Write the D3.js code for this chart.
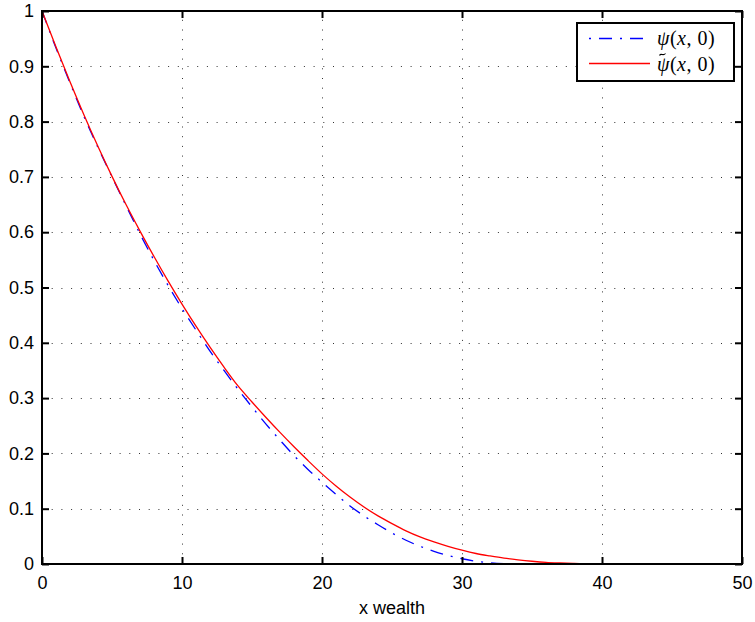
<!DOCTYPE html>
<html>
<head>
<meta charset="utf-8">
<script src="https://cdn.jsdelivr.net/npm/d3@7"></script>
<style>
  html, body { margin: 0; padding: 0; background: #fff; }
  svg { display: block; }
</style>
</head>
<body>
<svg id="chart" width="755" height="622"></svg>
<script>
// wealth grid
const wealth = [0,1,2,3,4,5,6,7,8,9,10,11,12,13,14,15,16,17,18,19,20,
  21,22,23,24,25,26,27,28,29,30,31,32,33,34,35,36,37,38,39,40,
  41,42,43,44,45,46,47,48,49,50];

// psi(x,0)
const psi = [1.000,0.933,0.870,0.809,0.753,0.700,0.648,0.597,0.549,0.504,0.462,
  0.423,0.385,0.350,0.316,0.284,0.253,0.224,0.196,0.171,0.148,
  0.126,0.105,0.087,0.071,0.056,0.043,0.032,0.023,0.0155,0.0095,
  0.005,0.002,0.0005,0,0,0,0,0,0,0,
  0,0,0,0,0,0,0,0,0,0];

// psi-tilde(x,0)
const psiTilde = [1.000,0.935,0.872,0.812,0.755,0.701,0.650,0.602,0.556,0.512,0.470,
  0.430,0.392,0.356,0.322,0.293,0.265,0.238,0.212,0.187,0.163,
  0.141,0.121,0.103,0.087,0.073,0.060,0.049,0.040,0.032,0.025,
  0.019,0.0145,0.0105,0.0075,0.005,0.003,0.0018,0.0009,0.0003,0,
  0,0,0,0,0,0,0,0,0,0];

const xTicks = [0,10,20,30,40,50];
const yTicks = [0,0.1,0.2,0.3,0.4,0.5,0.6,0.7,0.8,0.9,1];
const yTickLabels = ["0","0.1","0.2","0.3","0.4","0.5","0.6","0.7","0.8","0.9","1"];

(function draw() {
  const pLeft = 42, pRight = 742, pTop = 11, pBottom = 564;
  const svg = d3.select("#chart");
  const x = d3.scaleLinear().domain([0, 50]).range([pLeft, pRight]);
  const y = d3.scaleLinear().domain([0, 1]).range([pBottom, pTop]);

  const tickFont = "'Liberation Sans', Arial, sans-serif";

  // dotted grid
  const grid = svg.append("g").attr("stroke", "#333").attr("stroke-width", 1)
    .attr("stroke-dasharray", "1,8.7");
  grid.selectAll("line.gx").data(xTicks.slice(1, -1)).join("line")
    .attr("x1", d => Math.round(x(d)) + 0.5).attr("x2", d => Math.round(x(d)) + 0.5)
    .attr("y1", pBottom).attr("y2", pTop);
  grid.selectAll("line.gy").data(yTicks.slice(1, -1)).join("line")
    .attr("y1", d => Math.round(y(d)) + 0.5).attr("y2", d => Math.round(y(d)) + 0.5)
    .attr("x1", pLeft).attr("x2", pRight);

  // curves
  const line = (vals) => d3.line()
    .x((d, i) => x(wealth[i]))
    .y(d => y(d))
    .curve(d3.curveMonotoneX)(vals);

  svg.append("path").attr("d", line(psi))
    .attr("fill", "none").attr("stroke", "#0000ff").attr("stroke-width", 1.3)
    .attr("stroke-dasharray", "13,8,2,8");
  svg.append("path").attr("d", line(psiTilde))
    .attr("fill", "none").attr("stroke", "#ff0000").attr("stroke-width", 1.3);

  // axes box with inward ticks on all four sides
  svg.append("rect").attr("x", pLeft).attr("y", pTop)
    .attr("width", pRight - pLeft).attr("height", pBottom - pTop)
    .attr("fill", "none").attr("stroke", "#000").attr("stroke-width", 2);

  const tickLen = 7;
  const axB = d3.axisBottom(x).tickValues(xTicks).tickSizeInner(-tickLen).tickSizeOuter(0).tickPadding(12);
  const axT = d3.axisTop(x).tickValues(xTicks).tickSizeInner(-tickLen).tickSizeOuter(0).tickFormat("");
  const axL = d3.axisLeft(y).tickValues(yTicks).tickSizeInner(-tickLen).tickSizeOuter(0).tickPadding(8)
    .tickFormat((d, i) => yTickLabels[i]);
  const axR = d3.axisRight(y).tickValues(yTicks).tickSizeInner(-tickLen).tickSizeOuter(0).tickFormat("");

  function styleAxis(g) {
    g.select(".domain").remove();
    g.selectAll(".tick line").attr("stroke", "#000").attr("stroke-width", 2);
    g.selectAll(".tick text").attr("fill", "#000")
      .style("font-family", tickFont).style("font-size", "18px");
  }
  svg.append("g").attr("transform", `translate(0,${pBottom})`).call(axB).call(styleAxis);
  svg.append("g").attr("transform", `translate(0,${pTop})`).call(axT).call(styleAxis);
  svg.append("g").attr("transform", `translate(${pLeft},0)`).call(axL).call(styleAxis);
  svg.append("g").attr("transform", `translate(${pRight},0)`).call(axR).call(styleAxis);

  // x-axis title
  svg.append("text").attr("x", (pLeft + pRight) / 2).attr("y", 614)
    .attr("text-anchor", "middle")
    .style("font-family", tickFont).style("font-size", "18px")
    .text("x wealth");

  // legend
  const lg = svg.append("g");
  lg.append("rect").attr("x", 577).attr("y", 23).attr("width", 157).attr("height", 58)
    .attr("fill", "#fff").attr("stroke", "#000").attr("stroke-width", 2);
  lg.append("line").attr("x1", 589).attr("x2", 650).attr("y1", 38.5).attr("y2", 38.5)
    .attr("stroke", "#0000ff").attr("stroke-width", 1.3)
    .attr("stroke-dasharray", "13,8,2,8").attr("stroke-dashoffset", 21);
  lg.append("line").attr("x1", 589).attr("x2", 650).attr("y1", 63.5).attr("y2", 63.5)
    .attr("stroke", "#ff0000").attr("stroke-width", 1.3);

  const serif = "'Liberation Serif', 'DejaVu Serif', serif";
  function legendLabel(yPos, sym) {
    const t = lg.append("text").attr("x", 657).attr("y", yPos)
      .style("font-family", serif).style("font-size", "20px")
      .style("letter-spacing", "0.5px");
    t.append("tspan").style("font-style", "italic").text(sym);
    t.append("tspan").text("(");
    t.append("tspan").style("font-style", "italic").text("x");
    t.append("tspan").text(", 0)");
    return t;
  }
  legendLabel(45, "\u03C8");
  legendLabel(71, "\u03C8");
  // tilde accent over the second psi, drawn as a small wave
  const tp = d3.path();
  tp.moveTo(659.5, 55.5);
  tp.bezierCurveTo(661, 52.5, 663, 56.5, 665.5, 53.5);
  lg.append("path").attr("d", tp.toString())
    .attr("fill", "none").attr("stroke", "#000").attr("stroke-width", 1.1);
})();
</script>
</body>
</html>
